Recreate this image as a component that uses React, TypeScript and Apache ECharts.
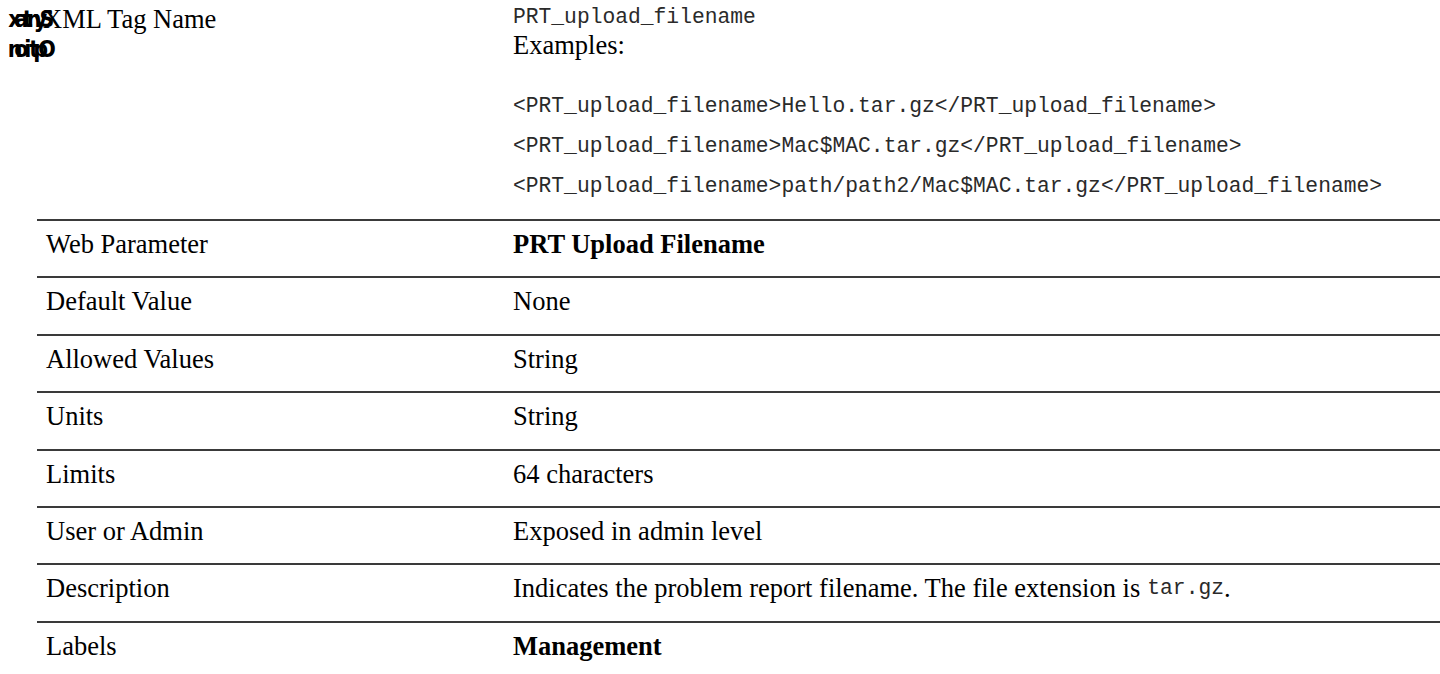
import React, { useEffect, useRef } from "react";
import * as echarts from "echarts";

const rowLabels = [
  "Web Parameter",
  "Default Value",
  "Allowed Values",
  "Units",
  "Limits",
  "User or Admin",
  "Description",
  "Labels",
];
const rowValues = [
  "PRT Upload Filename",
  "None",
  "String",
  "String",
  "64 characters",
  "Exposed in admin level",
  "Indicates the problem report filename. The file extension is ",
  "Management",
];
const boldRows = [0, 7];
const descriptionCode = "tar.gz";
const xmlTagLabel = "XML Tag Name";
const xmlTagValue = "PRT_upload_filename";
const examplesTitle = "Examples:";
const exampleLines = [
  "<PRT_upload_filename>Hello.tar.gz</PRT_upload_filename>",
  "<PRT_upload_filename>Mac$MAC.tar.gz</PRT_upload_filename>",
  "<PRT_upload_filename>path/path2/Mac$MAC.tar.gz</PRT_upload_filename>",
];
const squeezedWords = ["Syntax", "Option"];

const SERIF_FAMILY = "'Liberation Serif', 'Times New Roman', serif";
const MONO_FAMILY = "'Liberation Mono', 'Courier New', monospace";
const SERIF_SIZE = 26.5;
const MONO_SIZE = 21.3;

export default function App() {
  const ref = useRef<HTMLDivElement>(null);
  useEffect(() => {
    if (!ref.current) return;
    const chart = echarts.init(ref.current, undefined, { renderer: "svg" });
    const els: any[] = [];
    const col1 = 46;
    const col2 = 513;
    const firstLine = 220;
    const rowH = 57.4;

    const serif = (bold = false) => ({
      fontFamily: SERIF_FAMILY,
      fontSize: SERIF_SIZE,
      fontWeight: bold ? "bold" : "normal",
      fill: "#000",
    });
    const mono = () => ({ fontFamily: MONO_FAMILY, fontSize: MONO_SIZE, fill: "#2a2a2a" });

    // squeezed overlapping header words
    squeezedWords.forEach((w, r) => {
      w.split("").forEach((c, i) => {
        els.push({
          type: "text",
          x: 47 - i * 6.4,
          y: 19 + r * 30,
          style: {
            text: c,
            fontFamily: "'DejaVu Sans Condensed', 'DejaVu Sans', sans-serif",
            fontSize: 23,
            fontWeight: "bold",
            fill: "#000",
            align: "center",
            verticalAlign: "middle",
          },
        });
      });
    });

    els.push({
      type: "text",
      x: col1 - 3,
      y: 19,
      style: { text: xmlTagLabel, ...serif(), verticalAlign: "middle" },
    });
    els.push({
      type: "text",
      x: col2,
      y: 17,
      style: { text: xmlTagValue, ...mono(), verticalAlign: "middle" },
    });
    els.push({
      type: "text",
      x: col2,
      y: 45,
      style: { text: examplesTitle, ...serif(), verticalAlign: "middle" },
    });
    exampleLines.forEach((t, i) => {
      els.push({
        type: "text",
        x: col2,
        y: 106 + i * 40,
        style: { text: t, ...mono(), verticalAlign: "middle" },
      });
    });

    rowLabels.forEach((lab, i) => {
      const ly = Math.round(firstLine + i * rowH);
      els.push({
        type: "line",
        shape: { x1: 37, y1: ly, x2: 1440, y2: ly },
        style: { stroke: "#3a3a3a", lineWidth: 1.8 },
      });
      const cy = ly + 24;
      els.push({
        type: "text",
        x: col1,
        y: cy,
        style: { text: lab, ...serif(), verticalAlign: "middle" },
      });
      const bold = boldRows.includes(i);
      if (i === 6) {
        els.push({
          type: "text",
          x: col2,
          y: cy,
          style: {
            text: `{a|${rowValues[i]}}{m|${descriptionCode}}{a|.}`,
            verticalAlign: "middle",
            rich: {
              a: serif(),
              m: mono(),
            },
          },
        });
      } else {
        els.push({
          type: "text",
          x: col2,
          y: cy,
          style: { text: rowValues[i], ...serif(bold), verticalAlign: "middle" },
        });
      }
    });

    chart.setOption({ animation: false, graphic: { elements: els } });
    return () => chart.dispose();
  }, []);
  return (
    <div
      ref={ref}
      style={{ position: "fixed", left: 0, top: 0, width: 1440, height: 674, background: "#fff" }}
    />
  );
}
